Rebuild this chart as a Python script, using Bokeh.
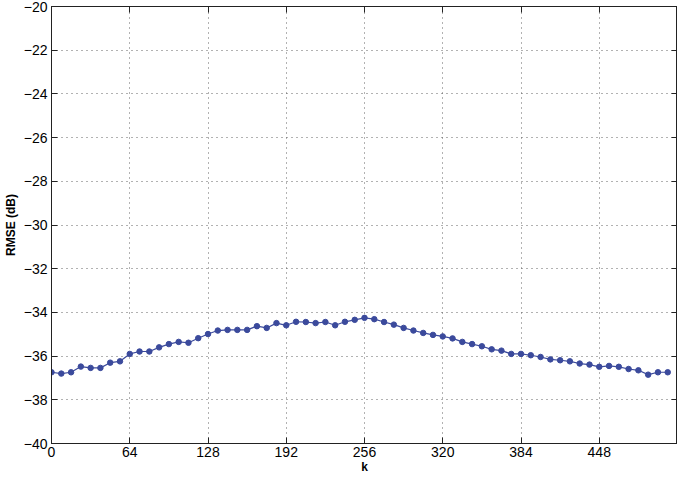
from bokeh.plotting import figure
from bokeh.models import LinearAxis, FixedTicker, Range1d
from bokeh.embed import file_html
from bokeh.resources import INLINE

k = list(range(0, 512, 8))
rmse_db = [-36.74, -36.80, -36.74, -36.48, -36.54, -36.54, -36.30, -36.24,
           -35.90, -35.79, -35.79, -35.60, -35.45, -35.35, -35.39, -35.18,
           -34.99, -34.83, -34.80, -34.80, -34.80, -34.63, -34.71, -34.49,
           -34.59, -34.43, -34.44, -34.49, -34.44, -34.59, -34.43, -34.34,
           -34.25, -34.31, -34.44, -34.56, -34.71, -34.83, -34.94, -35.03,
           -35.10, -35.19, -35.35, -35.45, -35.55, -35.69, -35.75, -35.90,
           -35.90, -35.96, -36.04, -36.15, -36.19, -36.24, -36.34, -36.39,
           -36.49, -36.45, -36.49, -36.59, -36.65, -36.85, -36.74, -36.74]
xticks = [0, 64, 128, 192, 256, 320, 384, 448]
yticks = [-40, -38, -36, -34, -32, -30, -28, -26, -24, -22, -20]
x_label = "k"
y_label = "RMSE (dB)"

FONT = "Liberation Sans"
color = "#3b4a9c"

p = figure(width=677, height=476, output_backend="svg", toolbar_location=None,
           x_range=Range1d(0, 512), y_range=Range1d(-40, -20),
           min_border_left=20, min_border_right=0, min_border_top=6,
           min_border_bottom=10)
p.outline_line_color = "#222222"
p.outline_line_width = 1
p.background_fill_color = "white"
p.border_fill_color = "white"

p.line(k, rmse_db, line_color=color, line_width=1.2)
p.scatter(k, rmse_db, size=5.5, fill_color=color, line_color=color)

yover = {t: str(t).replace("-", "\u2212") for t in yticks}

for ax in p.xaxis:
    ax.ticker = FixedTicker(ticks=xticks)
for ax in p.yaxis:
    ax.ticker = FixedTicker(ticks=yticks)
    ax.major_label_overrides = yover

for ax in list(p.xaxis) + list(p.yaxis):
    ax.major_tick_in = 6
    ax.major_tick_out = 0
    ax.minor_tick_in = 0
    ax.minor_tick_out = 0
    ax.axis_line_color = "#222222"
    ax.major_tick_line_color = "#222222"
    ax.major_label_text_font = FONT
    ax.major_label_text_font_size = "14px"
    ax.major_label_text_color = "black"
    ax.axis_label_text_font = FONT
    ax.axis_label_text_font_size = "12px"
    ax.axis_label_text_font_style = "bold"
    ax.axis_label_text_color = "black"

p.xaxis.major_label_standoff = 3
p.yaxis.major_label_standoff = 4
p.xaxis.axis_label = x_label
p.yaxis.axis_label = y_label
p.xaxis.axis_label_standoff = 0
p.yaxis.axis_label_standoff = 3

for loc, tk in (("right", yticks), ("above", xticks)):
    ax = LinearAxis(ticker=FixedTicker(ticks=tk))
    ax.major_tick_in = 6
    ax.major_tick_out = 0
    ax.minor_tick_in = 0
    ax.minor_tick_out = 0
    ax.major_label_overrides = {t: "" for t in tk}
    ax.major_label_standoff = 0
    ax.axis_line_color = "#222222"
    ax.major_tick_line_color = "#222222"
    p.add_layout(ax, loc)

p.xgrid.ticker = FixedTicker(ticks=xticks)
p.ygrid.ticker = FixedTicker(ticks=yticks)
for g in (p.xgrid[0], p.ygrid[0]):
    g.grid_line_color = "#555555"
    g.grid_line_dash = "1 4"
    g.grid_line_width = 1
    g.grid_line_alpha = 0.9

open("out.html", "w").write(file_html(p, INLINE))
